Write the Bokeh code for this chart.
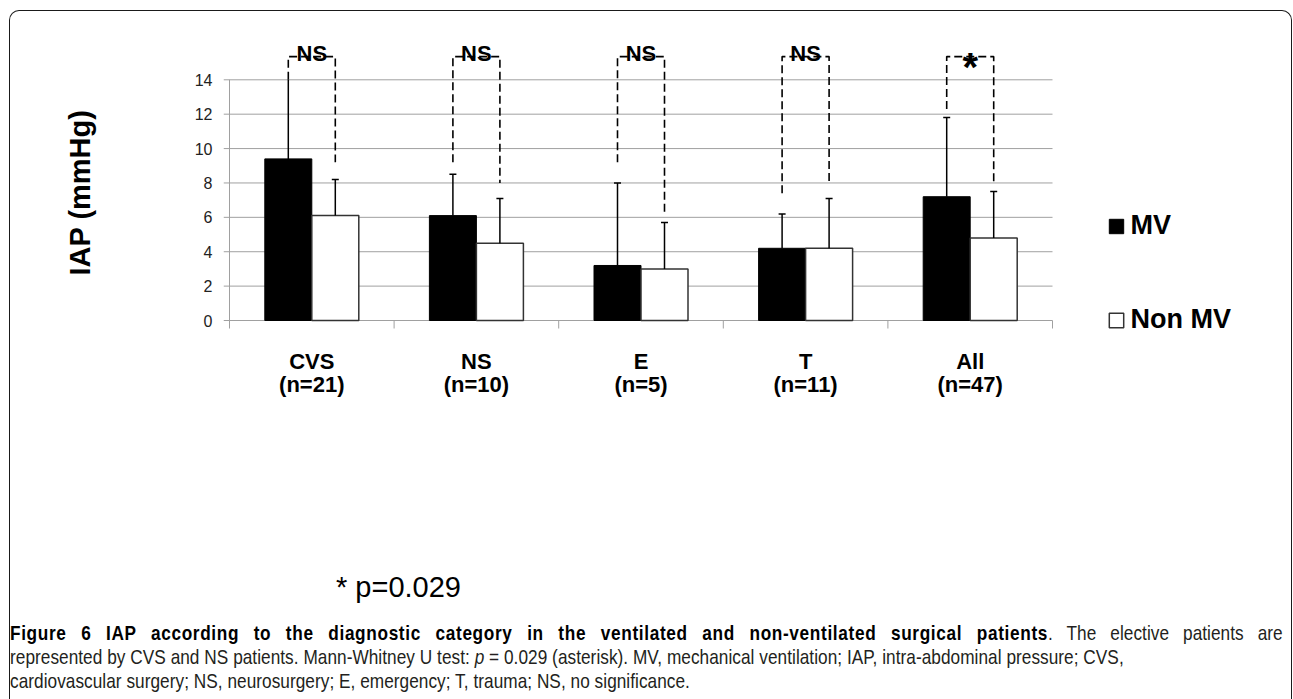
import glob
import os
from bokeh.plotting import figure
from bokeh.models import Range1d, FixedTicker, Legend, LegendItem, Div
from bokeh.layouts import column
from bokeh.core.properties import value
from bokeh.embed import file_html
from bokeh.resources import INLINE

# ---------------- data ----------------
categories = ["CVS", "NS", "E", "T", "All"]
n_counts = [21, 10, 5, 11, 47]
mv_mean = [9.4, 6.1, 3.2, 4.2, 7.2]
mv_sd = [4.6, 2.4, 4.8, 2.0, 4.6]
nonmv_mean = [6.1, 4.5, 3.0, 4.2, 4.8]
nonmv_sd = [2.1, 2.6, 2.7, 2.9, 2.7]
significance = ["NS", "NS", "NS", "NS", "*"]
bracket_top = 15.35
bracket_low_mv = [14.0, 9.2, 9.2, 7.4, 12.3]
bracket_low_nonmv = [9.2, 8.0, 6.2, 8.0, 8.0]
y_ticks = [0, 2, 4, 6, 8, 10, 12, 14]
series_names = ["MV", "Non MV"]
y_title = "IAP (mmHg)"
p_note = "* p=0.029"
caption_bold = "Figure 6 IAP according to the diagnostic category in the ventilated and non-ventilated surgical patients"
caption_line1_rest = ". The elective patients are"
caption_line2_a = "represented by CVS and NS patients. Mann-Whitney U test: "
caption_line2_p = "p"
caption_line2_b = " = 0.029 (asterisk). MV, mechanical ventilation; IAP, intra-abdominal pressure; CVS,"
caption_line3 = "cardiovascular surgery; NS, neurosurgery; E, emergency; T, trauma; NS, no significance."

# ---------------- layout (page pixels) ----------------
W, H = 1293, 699
H_FIG = 568
H_NOTE = 53
H_CAP = H - H_FIG - H_NOTE
FL, FT, FB = 223, 36, 348          # frame left/top/bottom (frame runs to right edge)
X_AXIS_PX = 320                    # px of value 0
PX_X = 164.6                       # px per category
PX_Y = 240.7 / 14                  # px per mmHg
GRID = "#a0a0a0"
FONT = "Liberation Sans"

n = len(categories)
x_start = -6 / PX_X
x_end = x_start + (W - FL) / PX_X
y_start = -(FB - X_AXIS_PX) / PX_Y
y_end = (X_AXIS_PX - FT) / PX_Y

p = figure(width=W, height=H_FIG, x_range=Range1d(x_start, x_end), y_range=Range1d(y_start, y_end),
           output_backend="svg", toolbar_location=None,
           min_border_left=FL, min_border_right=0, min_border_top=FT, min_border_bottom=H_FIG - FB)
p.outline_line_color = None
p.background_fill_color = None
p.border_fill_color = None
p.xgrid.visible = False
p.ygrid.visible = False

centers = [i + 0.5 for i in range(n)]
bounds = list(range(n + 1))
dodge = 23.5 / PX_X
bw = 47 / PX_X
mv_x = [c - dodge for c in centers]
nm_x = [c + dodge for c in centers]

# horizontal gridlines over the category span (the 0 line is the category axis line)
p.segment(x0=[x_start] * len(y_ticks), y0=y_ticks, x1=[n] * len(y_ticks), y1=y_ticks,
          line_color=GRID, line_width=1)
# value axis line, stops at top tick
p.segment(x0=[0], y0=[y_ticks[0]], x1=[0], y1=[y_ticks[-1]], line_color=GRID, line_width=1)
# category boundary ticks
p.segment(x0=bounds, y0=[0] * len(bounds), x1=bounds, y1=[-8 / PX_Y] * len(bounds),
          line_color=GRID, line_width=1)

# bars
r_mv = p.vbar(x=mv_x, top=mv_mean, width=bw, fill_color="black", line_color="black", line_width=1)
r_nm = p.vbar(x=nm_x, top=nonmv_mean, width=bw, fill_color="white", line_color="#333333", line_width=1.5)

# error bars (clipped at axis max, no cap when clipped)
ymax = y_ticks[-1]
cap = 3.5 / PX_X
for xs, means, sds in ((mv_x, mv_mean, mv_sd), (nm_x, nonmv_mean, nonmv_sd)):
    ups = [min(m + s, ymax) for m, s in zip(means, sds)]
    p.segment(x0=xs, y0=means, x1=xs, y1=ups, line_color="black", line_width=1.5)
    keep = [i for i in range(n) if means[i] + sds[i] < ymax]
    p.segment(x0=[xs[i] - cap for i in keep], y0=[ups[i] for i in keep],
              x1=[xs[i] + cap for i in keep], y1=[ups[i] for i in keep],
              line_color="black", line_width=1.5)

# significance brackets
p.multi_line(xs=[[a, a, b, b] for a, b in zip(mv_x, nm_x)],
             ys=[[l1, bracket_top, bracket_top, l2] for l1, l2 in zip(bracket_low_mv, bracket_low_nonmv)],
             line_color="black", line_width=1.6, line_dash="8 4")

ns_idx = [i for i, s in enumerate(significance) if s == "NS"]
st_idx = [i for i, s in enumerate(significance) if s != "NS"]
p.text(x=[centers[i] for i in ns_idx], y=[bracket_top + 3 / PX_Y] * len(ns_idx),
       text=[significance[i] for i in ns_idx], text_font=value(FONT), text_font_style="bold",
       text_font_size="22px", text_align="center", text_baseline="alphabetic", text_color="black")
p.text(x=[centers[i] for i in st_idx], y=[bracket_top - 10 / PX_Y] * len(st_idx),
       text=[significance[i] for i in st_idx], text_font=value(FONT), text_font_style="bold",
       text_font_size="40px", text_align="center", text_baseline="alphabetic", text_color="black")

# y axis
yax = p.yaxis[0]
yax.ticker = FixedTicker(ticks=y_ticks)
yax.axis_line_color = None
yax.major_tick_line_color = None
yax.minor_tick_line_color = None
yax.major_tick_out = 0
yax.major_tick_in = 0
yax.major_label_standoff = 11
yax.major_label_text_font = FONT
yax.major_label_text_font_size = "16px"
yax.major_label_text_color = "#222222"
yax.axis_label = y_title
yax.axis_label_text_font = FONT
yax.axis_label_text_font_style = "bold"
yax.axis_label_text_font_size = "29px"
yax.axis_label_text_color = "black"
yax.axis_label_standoff = 96

# x axis (category labels)
xax = p.xaxis[0]
xax.ticker = FixedTicker(ticks=centers)
xax.major_label_overrides = {c: f"{cat}\n(n={k})" for c, cat, k in zip(centers, categories, n_counts)}
xax.major_tick_out = 0
xax.major_tick_in = 0
xax.major_tick_line_color = None
xax.minor_tick_line_color = None
xax.axis_line_color = None
xax.major_label_standoff = 0
xax.major_label_text_font = FONT
xax.major_label_text_font_style = "bold"
xax.major_label_text_font_size = "22px"
xax.major_label_text_line_height = 0.95
xax.major_label_text_color = "black"

# legend (inside the wide frame, right of the bars)
legend = Legend(items=[LegendItem(label=series_names[0], renderers=[r_mv]),
                       LegendItem(label=series_names[1], renderers=[r_nm])],
                location=(883.5, 13), orientation="vertical",
                glyph_width=18, glyph_height=18, label_standoff=6, spacing=63,
                padding=0, margin=0, border_line_color=None, background_fill_alpha=0,
                label_text_font=FONT, label_text_font_style="bold", label_text_font_size="27px",
                label_text_color="black")
p.add_layout(legend, "center")

# ---------------- note, caption, outer rounded border ----------------
def has_font(stem):
    dirs = ["/usr/share/fonts", "/usr/local/share/fonts", os.path.expanduser("~/.fonts"),
            os.path.expanduser("~/.local/share/fonts")]
    for d in dirs:
        if glob.glob(os.path.join(d, "**", stem + "*"), recursive=True):
            return True
    return False

CAP_LEFT, CAP_RIGHT = 10, 1283
if has_font("LiberationSansNarrow"):
    cap_family = "'Liberation Sans Narrow'"
    scale = 1.0
else:
    cap_family = "'Liberation Sans'"
    scale = 0.82
inner_w = int(round((CAP_RIGHT - CAP_LEFT) / scale))

border = Div(text='<div style="position:absolute;left:9px;top:10px;width:1283px;height:689px;'
                  'box-sizing:border-box;border:1.5px solid #1a1a1a;border-bottom:none;'
                  'border-radius:10px 10px 0 0;pointer-events:none;"></div>',
             width=W, height=0, margin=0, styles={"overflow": "visible"})

note = Div(text=f'<div style="font-family:\'Liberation Sans\';font-size:29px;line-height:34px;'
                f'padding-left:336px;padding-top:2px;color:black;white-space:nowrap;">{p_note}</div>',
           width=W, height=H_NOTE, margin=0)

jl = "text-align:justify;text-align-last:justify;white-space:nowrap;"
nl = "white-space:nowrap;"
cap_html = (
    f'<div style="font-family:{cap_family};font-size:21px;line-height:24px;color:#231f20;'
    f'letter-spacing:0.05px;width:{inner_w}px;margin-left:{CAP_LEFT}px;'
    f'transform:scaleX({scale});transform-origin:0 0;">'
    f'<div style="{jl}"><b style="color:black;letter-spacing:0.8px">{caption_bold}</b>{caption_line1_rest}</div>'
    f'<div style="{nl}">{caption_line2_a}<i>{caption_line2_p}</i>{caption_line2_b}</div>'
    f'<div style="{nl}">{caption_line3}</div>'
    f'</div>'
)
caption = Div(text=cap_html, width=W, height=H_CAP, margin=0, styles={"overflow": "hidden"})

layout = column(border, p, note, caption, spacing=0)

open("out.html", "w").write(file_html(layout, INLINE))
